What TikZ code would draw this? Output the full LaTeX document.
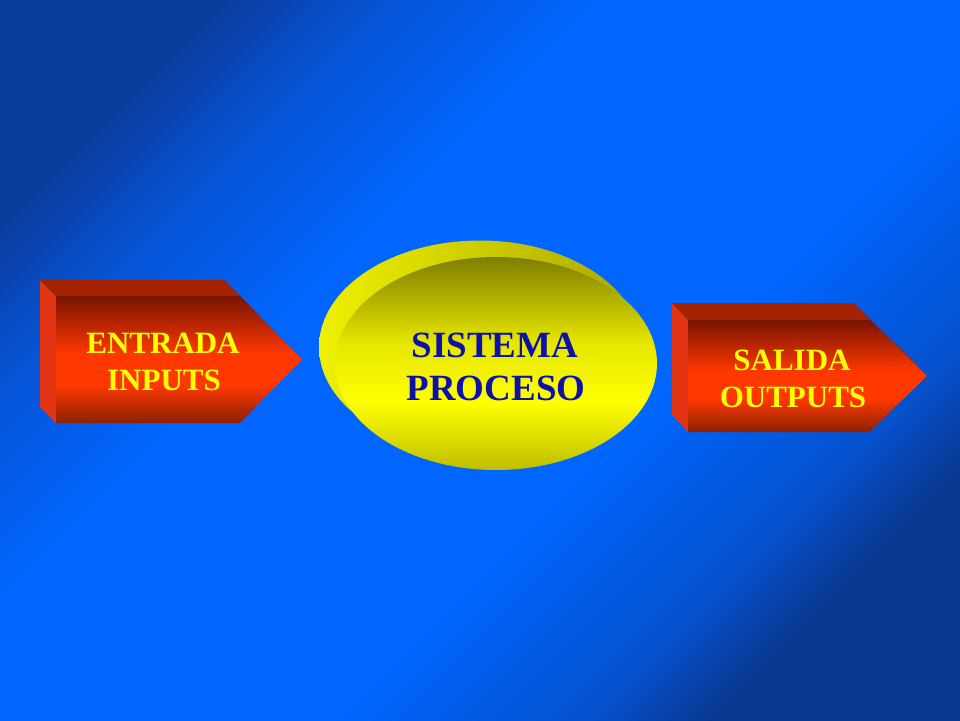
\documentclass[tikz,border=0pt]{standalone}
\usepackage{fontspec}
\setmainfont{Liberation Serif}
\definecolor{bgTL}{HTML}{0A3C9E}
\definecolor{bgTLm}{HTML}{0654D6}
\definecolor{bgBR}{HTML}{083890}
\definecolor{bgBRm}{HTML}{0550CC}
\definecolor{bgMid}{HTML}{0066FF}
\definecolor{redTop}{HTML}{781400}
\definecolor{redBright}{HTML}{FF3800}
\definecolor{redBot}{HTML}{8C2000}
\definecolor{redSide}{HTML}{E23412}
\definecolor{redLid}{HTML}{A42200}
\definecolor{yelTop}{HTML}{7E7E00}
\definecolor{yelMidA}{HTML}{E6E600}
\definecolor{yelBright}{HTML}{FFFF00}
\definecolor{yelBot}{HTML}{BEBE00}
\definecolor{yelBackL}{HTML}{F0F000}
\definecolor{yelBackR}{HTML}{A8A800}
\definecolor{txtYel}{HTML}{FFFF00}
\definecolor{txtBlue}{HTML}{0C12A8}
\pgfdeclareverticalshading{bgshade}{100bp}{color(0bp)=(bgBR); color(25bp)=(bgBR); color(30bp)=(bgBRm); color(41bp)=(bgMid); color(60bp)=(bgMid); color(69bp)=(bgTLm); color(76bp)=(bgTL); color(100bp)=(bgTL)}
\pgfdeclareverticalshading{frontred}{100bp}{color(0bp)=(redBot); color(25bp)=(redBot); color(40bp)=(redBright); color(52bp)=(redBright); color(75bp)=(redTop); color(100bp)=(redTop)}
\pgfdeclareverticalshading{frontyel}{100bp}{color(0bp)=(yelBot); color(25bp)=(yelBot); color(41bp)=(yelBright); color(55bp)=(yelMidA); color(75bp)=(yelTop); color(100bp)=(yelTop)}
\tikzset{
  arrowfront/.style={shading=frontred},
  arrowside/.style={fill=redSide},
  arrowlid/.style={fill=redLid},
  arrowtext/.style={text=txtYel, font=\fontsize{31}{31}\selectfont\bfseries, anchor=base, inner sep=0pt},
  elltext/.style={text=txtBlue, font=\fontsize{37}{37}\selectfont\bfseries, anchor=base, inner sep=0pt},
}
\begin{document}
\begin{tikzpicture}[x=1pt,y=-1pt]
\useasboundingbox (0,0) rectangle (960,720);
% background
\shade[shading=bgshade, shading angle=45] (0,0) rectangle (960,720);

% left arrow
\fill[arrowside] (40,280) -- (56,296) -- (56,423) -- (40,407) -- cycle;
\fill[arrowlid] (40,280) -- (224,280) -- (240,296) -- (56,296) -- cycle;
\fill[arrowlid] (224,280) -- (286,343.5) -- (302,359.5) -- (240,296) -- cycle;
\shade[arrowfront] (56,296) -- (240,296) -- (302,359.5) -- (240,423) -- (56,423) -- cycle;
\node[arrowtext] (in1) at (163,353) {ENTRADA};
\node[arrowtext] (in2) at (164,390) {INPUTS};

% ellipse
\shade[left color=yelBackL, right color=yelBackR] (480,347) ellipse [x radius=161, y radius=106.5];
\shade[shading=frontyel] (496,363.5) ellipse [x radius=161, y radius=106.5];
\node[elltext] (p1) at (495,357) {SISTEMA};
\node[elltext] (p2) at (496,400) {PROCESO};

% right arrow
\fill[arrowside] (672,303) -- (688,320) -- (688,432) -- (672,415) -- cycle;
\fill[arrowlid] (672,303) -- (854,303) -- (870,320) -- (688,320) -- cycle;
\fill[arrowlid] (854,303) -- (911,359) -- (927,376) -- (870,320) -- cycle;
\shade[arrowfront] (688,320) -- (870,320) -- (927,376) -- (869,432) -- (688,432) -- cycle;
\node[arrowtext] (o1) at (792,370) {SALIDA};
\node[arrowtext] (o2) at (793,407) {OUTPUTS};
\end{tikzpicture}
\end{document}
